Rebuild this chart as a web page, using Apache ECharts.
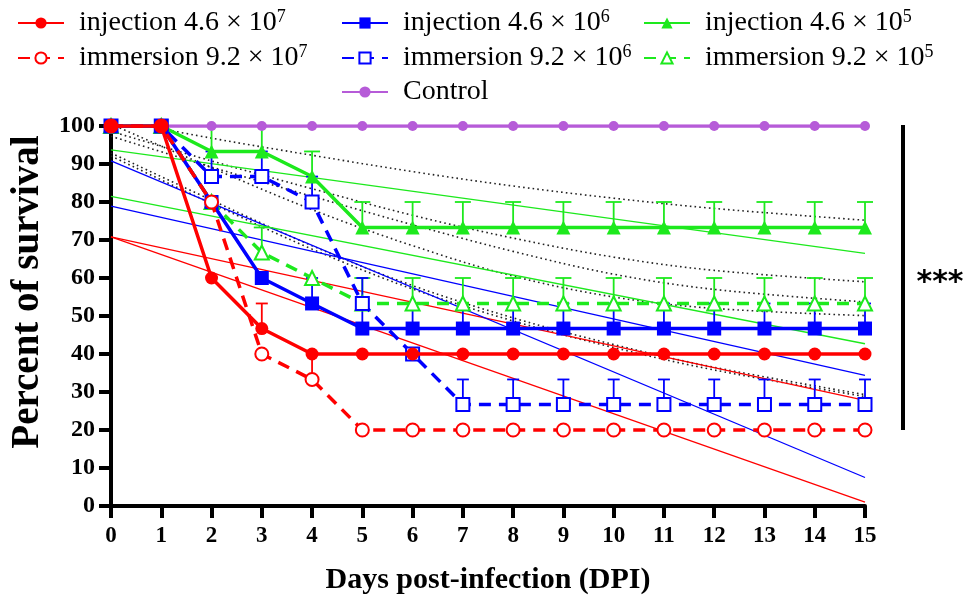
<!DOCTYPE html>
<html>
<head>
<meta charset="utf-8">
<script src="https://cdn.jsdelivr.net/npm/echarts@6/dist/echarts.min.js"></script>
<style>html,body{margin:0;padding:0;background:#fff}#c{width:963px;height:600px}</style>
</head>
<body>
<div id="c"></div>
<script>
// ---- data ----
const days = [0,1,2,3,4,5,6,7,8,9,10,11,12,13,14,15];
const yTicks = [0,10,20,30,40,50,60,70,80,90,100];
const seriesNames = ['injection 4.6 × 10^7','immersion 9.2 × 10^7','injection 4.6 × 10^6','immersion 9.2 × 10^6','injection 4.6 × 10^5','immersion 9.2 × 10^5','Control'];

const injection7 = [100,100,60,46.7,40,40,40,40,40,40,40,40,40,40,40,40];
const immersion7 = [100,100,80,40,33.3,20,20,20,20,20,20,20,20,20,20,20];
const injection6 = [100,100,80,60,53.3,46.7,46.7,46.7,46.7,46.7,46.7,46.7,46.7,46.7,46.7,46.7];
const immersion6 = [100,100,86.7,86.7,80,53.3,40,26.7,26.7,26.7,26.7,26.7,26.7,26.7,26.7,26.7];
const injection5 = [100,100,93.3,93.3,86.7,73.3,73.3,73.3,73.3,73.3,73.3,73.3,73.3,73.3,73.3,73.3];
const immersion5 = [100,100,80,66.7,60,53.3,53.3,53.3,53.3,53.3,53.3,53.3,53.3,53.3,53.3,53.3];
const control    = [100,100,100,100,100,100,100,100,100,100,100,100,100,100,100,100];

// upper error (SEM) per day
const errInjection7 = [0,0,0,6.6,0,0,0,0,0,0,0,0,0,0,0,0];
const errImmersion7 = [0,0,0,0,6.7,0,0,0,0,0,0,0,0,0,0,0];
const errInjection6 = [0,0,0,0,6.7,6.6,6.6,6.6,6.6,6.6,6.6,6.6,6.6,6.6,6.6,6.6];
const errImmersion6 = [0,0,6.6,6.6,6.7,6.7,0,6.6,6.6,6.6,6.6,6.6,6.6,6.6,6.6,6.6];
const errInjection5 = [0,0,6.7,6.7,6.6,6.7,6.7,6.7,6.7,6.7,6.7,6.7,6.7,6.7,6.7,6.7];
const errImmersion5 = [0,0,0,6.6,0,6.7,6.7,6.7,6.7,6.7,6.7,6.7,6.7,6.7,6.7,6.7];

// linear fit lines (value at day 0 and day 15)
const fitX = [0,15];
const fitRedA = [70.8,27.8];
const fitRedB = [70.8,1.0];
const fitBlueA = [90.8,7.5];
const fitBlueB = [78.9,34.4];
const fitGreenA = [93.7,66.5];
const fitGreenB = [81.5,42.7];

// dotted confidence bands
const bandX = [0,2,4,6,8,10,12,15];
const band1 = [101.8,96.8,92.3,88.0,84.2,81.0,78.3,75.2];
const band2 = [98.6,90.8,83.5,76.5,70.5,65.5,62.0,59.0];
const band3 = [97.3,89.2,81.5,74.0,67.0,61.0,57.0,53.7];
const band4 = [100.5,89.0,78.0,68.5,60.5,55.0,52.0,50.1];
const band5 = [92.9,80.5,68.5,58.0,49.5,42.5,36.5,29.3];
const band6 = [92.1,79.6,67.6,57.1,48.7,41.7,35.8,28.8];

// ---- styling ----
const RED = '#ff0000', BLUE = '#0000ff', GREEN = '#1de91d', PURPLE = '#b65bd8';
const SERIF = 'Liberation Serif';

function pairs(xs, ys){ return xs.map((x,i)=>[x,ys[i]]); }

function fitSeries(ys, color){
  return {type:'line', data:pairs(fitX, ys), showSymbol:false, symbol:'none', silent:true,
    lineStyle:{color, width:1.3}, z:2, animation:false};
}
function bandSeries(ys){
  return {type:'line', data:pairs(bandX, ys), showSymbol:false, symbol:'none', silent:true, smooth:0.35,
    lineStyle:{color:'#222', width:1.6, type:[1.6,3.2]}, z:1, animation:false};
}
function errSeries(vals, errs, color, halfCap){
  const d = [];
  days.forEach((x,i)=>{ if(errs[i]>0) d.push([x, vals[i], vals[i]+errs[i]]); });
  return {type:'custom', silent:true, z:3, animation:false, data:d,
    renderItem:(params, api)=>{
      const p0 = api.coord([api.value(0), api.value(1)]);
      const p1 = api.coord([api.value(0), api.value(2)]);
      const st = {stroke:color, lineWidth:1.8};
      return {type:'group', children:[
        {type:'line', shape:{x1:p0[0],y1:p0[1],x2:p1[0],y2:p1[1]}, style:st},
        {type:'line', shape:{x1:p1[0]-halfCap,y1:p1[1],x2:p1[0]+halfCap,y2:p1[1]}, style:st}
      ]};
    }};
}
function mainSeries(name, ys, color, symbol, size, dashed, z){
  const hollow = symbol.indexOf('empty')===0;
  return {type:'line', name, data:pairs(days, ys), symbol, symbolSize:size, showSymbol:true,
    lineStyle:{color, width:3.5, type: dashed ? [12,8] : 'solid'},
    itemStyle:{color: color, borderColor:color, borderWidth: hollow ? 2.6 : 0},
    z, animation:false};
}

const chart = echarts.init(document.getElementById('c'), null, {renderer:'canvas'});

const legendText = {fontFamily:SERIF, fontSize:28, color:'#000', padding:[0,0,0,10],
  rich:{sup:{fontFamily:SERIF, fontSize:18, verticalAlign:'top', padding:[0,0,12,0]}}};
const legendCommon = {orient:'vertical', itemWidth:46, itemHeight:14, itemGap:6,
  textStyle:legendText, formatter:n=>n.replace(/\^(\d+)/, '{sup|$1}'), selectedMode:false};

chart.setOption({
  backgroundColor:'#fff',
  animation:false,
  grid:{left:110, right:98, top:126, bottom:92},
  legend:[
    Object.assign({left:12, top:3, data:[seriesNames[0], seriesNames[1]]}, legendCommon),
    Object.assign({left:336, top:3, data:[seriesNames[2], seriesNames[3], seriesNames[6]]}, legendCommon),
    Object.assign({left:638, top:3, data:[seriesNames[4], seriesNames[5]]}, legendCommon)
  ],
  xAxis:{type:'value', min:0, max:15, interval:1,
    name:'Days post-infection (DPI)', nameLocation:'middle', nameGap:59,
    nameTextStyle:{fontFamily:SERIF, fontWeight:'bold', fontSize:30, color:'#000'},
    axisLine:{lineStyle:{color:'#000', width:4}},
    axisTick:{length:12, lineStyle:{color:'#000', width:4}},
    axisLabel:{fontFamily:SERIF, fontWeight:'bold', fontSize:23, color:'#000', margin:19},
    splitLine:{show:false}},
  yAxis:{type:'value', min:0, max:100, interval:10,
    name:'Percent of survival', nameLocation:'middle', nameGap:64, nameRotate:90,
    nameTextStyle:{fontFamily:SERIF, fontWeight:'bold', fontSize:39, color:'#000', padding:[0,0,0,48]},
    axisLine:{show:true, lineStyle:{color:'#000', width:4}},
    axisTick:{show:true, length:12, lineStyle:{color:'#000', width:4}},
    axisLabel:{fontFamily:SERIF, fontWeight:'bold', fontSize:24, color:'#000', margin:16,
      formatter:v=> yTicks.indexOf(v)>=0 ? String(v) : ''},
    splitLine:{show:false}},
  series:[
    bandSeries(band1), bandSeries(band2), bandSeries(band3), bandSeries(band4), bandSeries(band5), bandSeries(band6),
    fitSeries(fitRedA, RED), fitSeries(fitRedB, RED), fitSeries(fitBlueA, BLUE), fitSeries(fitBlueB, BLUE),
    fitSeries(fitGreenA, GREEN), fitSeries(fitGreenB, GREEN),
    errSeries(injection5, errInjection5, GREEN, 8),
    errSeries(immersion5, errImmersion5, GREEN, 8),
    errSeries(injection6, errInjection6, BLUE, 6),
    errSeries(immersion6, errImmersion6, BLUE, 6),
    errSeries(injection7, errInjection7, RED, 6),
    errSeries(immersion7, errImmersion7, RED, 6),
    mainSeries(seriesNames[6], control, PURPLE, 'circle', 10, false, 4),
    mainSeries(seriesNames[5], immersion5, GREEN, 'emptyTriangle', 14, true, 5),
    mainSeries(seriesNames[4], injection5, GREEN, 'triangle', 14, false, 6),
    mainSeries(seriesNames[3], immersion6, BLUE, 'emptyRect', 13, true, 7),
    mainSeries(seriesNames[2], injection6, BLUE, 'rect', 14, false, 8),
    mainSeries(seriesNames[1], immersion7, RED, 'emptyCircle', 13, true, 9),
    mainSeries(seriesNames[0], injection7, RED, 'circle', 13, false, 10)
  ],
  graphic:[
    {type:'line', shape:{x1:903, y1:125, x2:903, y2:430}, style:{stroke:'#000', lineWidth:4}},
    {type:'text', x:940, y:283, style:{text:'***', fontFamily:'DejaVu Sans', fontWeight:'bold', fontSize:30,
      fill:'#000', align:'center', verticalAlign:'middle'}}
  ]
});
</script>
</body>
</html>
